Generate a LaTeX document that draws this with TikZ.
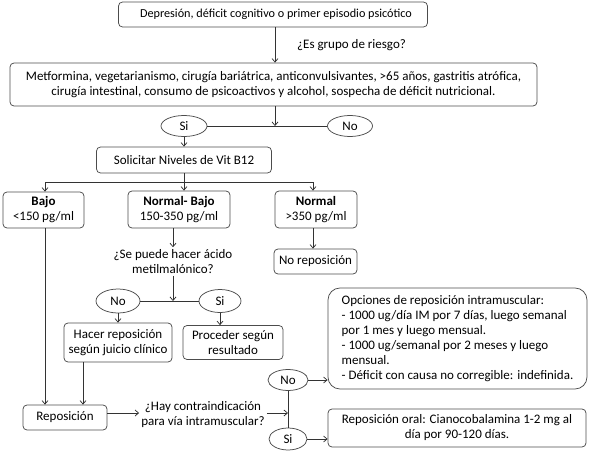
\documentclass[tikz,border=0pt]{standalone}
\usepackage{fontspec}
\setmainfont{Carlito}
\usetikzlibrary{arrows.meta,shapes.geometric}
\begin{document}
\begin{tikzpicture}[x=1pt,y=-1pt,
  font=\fontsize{13}{15}\selectfont,
  box/.style={draw=black!70, line width=0.75pt, rounded corners=4pt, align=center, inner sep=2pt},
  oval/.style={draw=black!70, line width=0.75pt, ellipse, inner sep=0pt},
  conn/.style={draw=black!80, line width=0.75pt},
  arr/.style={conn, -{Straight Barb[length=3.5pt,width=6pt]}},
  lbl/.style={align=center, inner sep=2pt}
]
\useasboundingbox (0,0) rectangle (589,452);
\coordinate (xA) at (275,0);
\node[box, minimum width=309pt, minimum height=25pt, font=\fontsize{12.2}{15}\selectfont] (top) at (273,14.5) {\hspace*{6pt}Depresión, déficit cognitivo o primer episodio psicótico};
\node[box, minimum width=527pt, minimum height=43pt] (risk) at (273.5,84.5) {Metformina, vegetarianismo, cirugía bariátrica, anticonvulsivantes, >65 años, gastritis atrófica,\\cirugía intestinal, consumo de psicoactivos y alcohol, sospecha de déficit nutricional.};
\node[anchor=west, inner sep=0pt] (qrisk) at (297,45) {¿Es grupo de riesgo?};
\draw[arr] (top.south -| xA) -- (risk.north -| xA);
\node[oval, minimum width=46pt, minimum height=21pt] (si1) at (184,126) {Si};
\node[oval, minimum width=45pt, minimum height=21pt] (no1) at (350,126) {No};
\draw[conn] (si1) -- (no1);
\draw[arr] (risk.south -| xA) -- (no1 -| xA);
\node[box, minimum width=175pt, minimum height=26pt] (solic) at (184,160) {Solicitar Niveles de Vit B12};
\draw[arr] (si1) -- (solic);
\coordinate (j2) at (184,182);
\coordinate (b1) at (45,182);
\coordinate (b3) at (313,182);
\node[box, minimum width=81pt, minimum height=36pt] (bajo) at (43.5,210) {\textbf{Bajo}\\<150 pg/ml};
\node[box, minimum width=102pt, minimum height=37pt] (nbajo) at (179,209.5) {\textbf{Normal- Bajo}\\150-350 pg/ml};
\node[box, minimum width=82pt, minimum height=37pt] (normal) at (316,209.5) {\textbf{Normal}\\>350 pg/ml};
\draw[conn] (solic.south) -- (j2);
\draw[conn] (b1) -- (b3);
\draw[arr] (b1) -- (bajo.north -| b1);
\draw[arr] (j2) -- (nbajo.north -| j2);
\draw[arr] (b3) -- (normal.north -| b3);
\node[box, minimum width=83pt, minimum height=25pt] (norep) at (315.5,261.5) {No reposición};
\draw[arr] (normal.south -| b3) -- (norep.north -| b3);
\coordinate (xq) at (173,0);
\node[lbl] (q2) at (173,261.5) {¿Se puede hacer ácido\\metilmalónico?};
\draw[arr] (nbajo.south -| xq) -- (q2.north -| xq);
\node[oval, minimum width=44pt, minimum height=24pt] (no2) at (118,301) {No};
\node[oval, minimum width=42pt, minimum height=23pt] (si2) at (220,301) {Si};
\draw[conn] (no2) -- (si2);
\draw[arr] (q2.south -| xq) -- (no2 -| xq);
\node[box, minimum width=108pt, minimum height=39pt] (hacer) at (118,342.5) {Hacer reposición\\según juicio clínico};
\node[box, minimum width=100pt, minimum height=34pt] (proc) at (233,342.5) {Proceder según\\resultado};
\draw[arr] (no2) -- (hacer);
\draw[arr] (si2.south) -- (si2.south |- proc.north);
\node[box, minimum width=84pt, minimum height=25pt] (repos) at (65,417.5) {Reposición};
\coordinate (xh) at (83,0);
\draw[arr] (hacer.south -| xh) -- (repos.north -| xh);
\draw[arr] (bajo.south -| b1) -- (repos.north -| b1);
\node[lbl] (q3) at (203,415) {¿Hay contraindicación\\para vía intramuscular?};
\coordinate (yr) at (0,413);
\draw[arr] (repos.east |- yr) -- (q3.west |- yr);
\node[oval, minimum width=40pt, minimum height=21pt] (no3) at (288,380) {No};
\node[oval, minimum width=38pt, minimum height=22pt] (si3) at (288,439) {Si};
\draw[conn] (no3) -- (si3);
\draw[arr] (q3.east |- yr) -- (no3 |- yr);
\node[box, rounded corners=12pt, align=left, minimum width=259pt, minimum height=101pt] (opc) at (457.5,338.5) {Opciones de reposición intramuscular:\\- 1000 ug/día IM por 7 días, luego semanal\\por 1 mes y luego mensual.\\- 1000 ug/semanal por 2 meses y luego\\mensual.\\- Déficit con causa no corregible: indefinida.};
\node[box, minimum width=258pt, minimum height=38pt] (oral) at (457,428) {Reposición oral: Cianocobalamina 1-2 mg al\\día por 90-120 días.};
\draw[arr] (no3) -- (no3 -| opc.west);
\draw[arr] (si3) -- (si3 -| oral.west);
\end{tikzpicture}
\end{document}
